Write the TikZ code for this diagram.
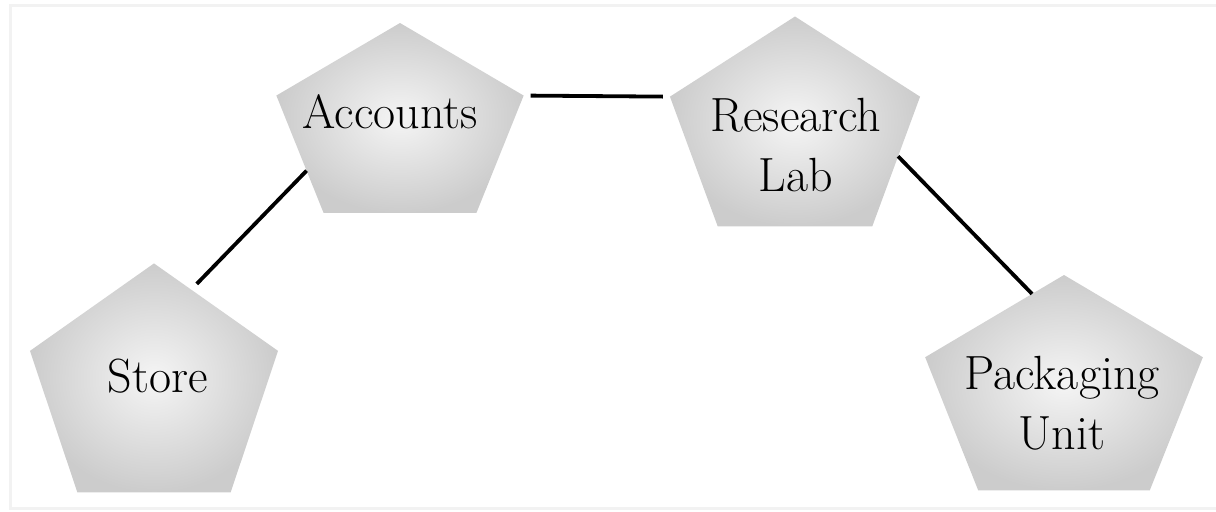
\documentclass[tikz,border=0pt]{standalone}
\usepackage{tikz}
\usetikzlibrary{shapes,calc,positioning}
\tikzset{
  unit/.style={regular polygon,regular polygon sides=5,minimum size=100pt,
    inner sep=0pt,outer sep=0pt,transform shape,
    shade,shading=radial,inner color=gray!8,outer color=gray!40},
  unitname/.style={align=center,inner sep=0pt,font=\fontsize{24}{30}\selectfont},
  link/.style={line width=1.9pt,black},
  frame/.style={draw=gray!10,line width=1.5pt}
}

\begin{document}
\begin{tikzpicture}[x=0.5pt,y=0.5pt]
  \useasboundingbox (0,0) rectangle (1216,511);
  \draw[frame] (10,3) rectangle (1225,506);

  \node[unit,xscale=1.30,yscale=1.05] (acc) at (400,383) {};
  \node[unit,xscale=1.315,yscale=1.16] (lab) at (795,378.5) {};
  \node[unit,xscale=1.304,yscale=1.266] (st) at (154,121) {};
  \node[unit,xscale=1.46,yscale=1.19] (pu) at (1064,117) {};

  \node[unitname] (acc-t) at (390,399.5) {Accounts};
  \node[unitname] (lab-t) at (796,365.5) {Research\\Lab};
  \node[unitname] (st-t) at (158,134.5) {Store};
  \node[unitname] (pu-t) at (1062,107.5) {Packaging\\Unit};

  \draw[link,shorten <=3.5pt,shorten >=3.5pt] (acc.corner 5) -- (lab.corner 2);
  \draw[link,shorten <=4pt] ($(st.corner 1)!0.3!(st.corner 5)$) -- ($(acc.corner 2)!0.64!(acc.corner 3)$);
  \draw[link] ($(lab.corner 5)!0.46!(lab.corner 4)$) -- ($(pu.corner 1)!0.23!(pu.corner 2)$);
\end{tikzpicture}
\end{document}
